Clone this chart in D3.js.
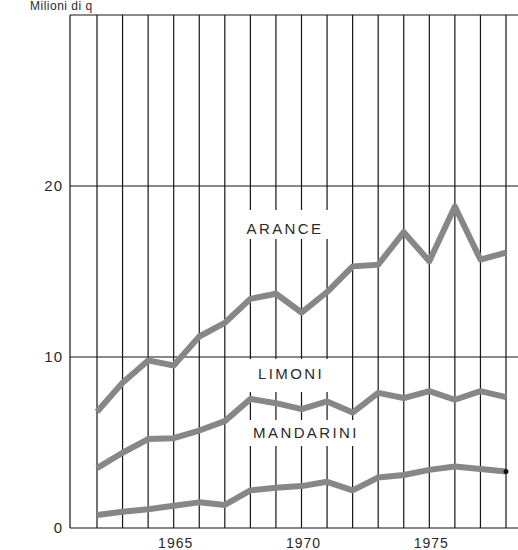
<!DOCTYPE html>
<html>
<head>
<meta charset="utf-8">
<script src="https://cdn.jsdelivr.net/npm/d3@7"></script>
<style>
  html, body { margin: 0; padding: 0; background: #fff; }
  svg { display: block; }
  text { font-family: "Liberation Sans", Arial, sans-serif; fill: #2a2a2a; }
</style>
</head>
<body>
<svg id="chart" width="518" height="550"></svg>
<script>
// ---- data ----
const years = [1962,1963,1964,1965,1966,1967,1968,1969,1970,1971,1972,1973,1974,1975,1976,1977,1978];
const arance    = [6.8, 8.5, 9.8, 9.5, 11.2, 12.0, 13.4, 13.7, 12.6, 13.8, 15.3, 15.4, 17.3, 15.6, 18.8, 15.7, 16.1];
const limoni    = [3.5, 4.4, 5.2, 5.25, 5.7, 6.25, 7.55, 7.3, 6.95, 7.4, 6.75, 7.9, 7.6, 8.0, 7.5, 8.0, 7.65];
const mandarini = [0.76, 0.95, 1.1, 1.3, 1.5, 1.35, 2.2, 2.35, 2.45, 2.7, 2.2, 2.95, 3.1, 3.4, 3.6, 3.45, 3.3];
const yTicks = [0, 10, 20];
const yGrid = [10, 20, 30];
const xTickYears = [1965, 1970, 1975];
const yTitle = "Milioni di q";
const seriesLabels = ["ARANCE", "LIMONI", "MANDARINI"];

// ---- layout ----
const svg = d3.select("#chart");
const frameLeft = 70, frameRight = 518;
const x = d3.scaleLinear().domain([1962, 1978]).range([97, 506]);
const y = d3.scaleLinear().domain([0, 30]).range([528, 15]);

const grid = svg.append("g").attr("stroke", "#151515").attr("stroke-width", 1.2);

// vertical grid lines (one per year) + left frame
grid.selectAll("line.v").data(years).join("line")
  .attr("x1", d => x(d)).attr("x2", d => x(d))
  .attr("y1", y(30)).attr("y2", y(0));
grid.append("line")
  .attr("x1", frameLeft).attr("x2", frameLeft)
  .attr("y1", y(30)).attr("y2", y(0));
// horizontal lines
grid.selectAll("line.h").data([0].concat(yGrid)).join("line")
  .attr("x1", frameLeft).attr("x2", frameRight)
  .attr("y1", d => y(d)).attr("y2", d => y(d));

// y tick labels
svg.append("g").selectAll("text").data(yTicks).join("text")
  .attr("x", 63).attr("y", d => y(d)).attr("dy", "0.36em")
  .attr("text-anchor", "end").attr("font-size", 15).attr("letter-spacing", 1)
  .text(d => d);

// y title
svg.append("text").attr("x", 30).attr("y", 10).attr("font-size", 12)
  .attr("letter-spacing", 0.5).text(yTitle);

// x tick labels
svg.append("g").selectAll("text").data(xTickYears).join("text")
  .attr("x", d => x(d) + 2).attr("y", 548)
  .attr("text-anchor", "middle").attr("font-size", 14).attr("letter-spacing", 1)
  .text(d => d);

// series labels with gaps in grid
const labelPos = [
  {t: seriesLabels[0], cx: 285, by: 234, box: [244, 210, 90, 29]},
  {t: seriesLabels[1], cx: 291, by: 379, box: [244, 359, 90, 33]},
  {t: seriesLabels[2], cx: 306, by: 438, box: [244, 420, 120, 26]}
];
svg.append("g").selectAll("rect").data(labelPos).join("rect")
  .attr("x", d => d.box[0]).attr("y", d => d.box[1])
  .attr("width", d => d.box[2]).attr("height", d => d.box[3])
  .attr("fill", "#fff");
svg.append("g").selectAll("text").data(labelPos).join("text")
  .attr("x", d => d.cx).attr("y", d => d.by)
  .attr("text-anchor", "middle").attr("font-size", 15).attr("letter-spacing", 2.4)
  .text(d => d.t);

// series lines
const line = d3.line().x((d, i) => x(years[i])).y(d => y(d));
svg.append("g").selectAll("path").data([arance, limoni, mandarini]).join("path")
  .attr("d", line)
  .attr("fill", "none").attr("stroke", "#878787").attr("stroke-width", 6)
  .attr("stroke-linejoin", "round").attr("stroke-linecap", "butt");

// small dot at end of mandarini
svg.append("circle")
  .attr("cx", x(years[years.length - 1])).attr("cy", y(mandarini[mandarini.length - 1]))
  .attr("r", 2.5).attr("fill", "#111");
</script>
</body>
</html>
